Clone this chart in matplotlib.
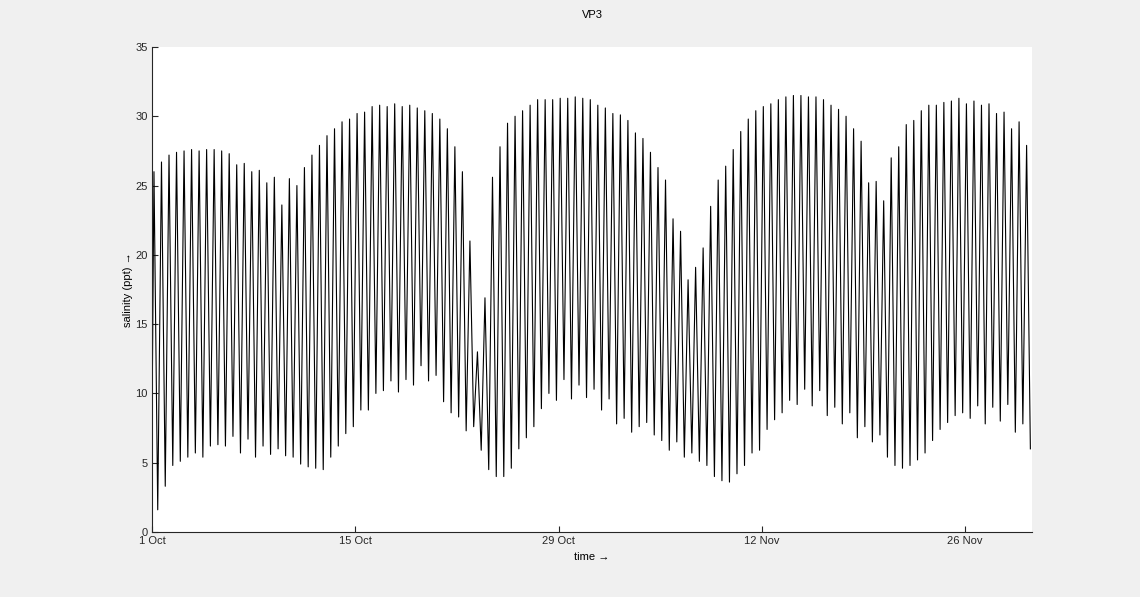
import numpy as np
import matplotlib.pyplot as plt

# salinity at each high water and the following low water (ppt)
highs = [26.0, 26.7, 27.2, 27.4, 27.5, 27.6, 27.5, 27.6, 27.6, 27.5,
         27.3, 26.5, 26.6, 26.0, 26.1, 25.2, 25.6, 23.6, 25.5, 25.0,
         26.3, 27.2, 27.9, 28.6, 29.1, 29.6, 29.8, 30.2, 30.3, 30.7,
         30.8, 30.7, 30.9, 30.7, 30.8, 30.6, 30.4, 30.2, 29.8, 29.1,
         27.8, 26.0, 21.0, 13.0, 16.9, 25.6, 27.8, 29.5, 30.0, 30.4,
         30.8, 31.2, 31.2, 31.2, 31.3, 31.3, 31.4, 31.3, 31.2, 30.8,
         30.6, 30.2, 30.1, 29.7, 28.8, 28.4, 27.4, 26.3, 25.4, 22.6,
         21.7, 18.2, 19.1, 20.5, 23.5, 25.4, 26.4, 27.6, 28.9, 29.8,
         30.4, 30.7, 30.9, 31.2, 31.4, 31.5, 31.5, 31.4, 31.4, 31.2,
         30.8, 30.5, 30.0, 29.1, 28.2, 25.2, 25.3, 23.9, 27.0, 27.8,
         29.4, 29.7, 30.4, 30.8, 30.8, 31.0, 31.1, 31.3, 30.9, 31.1,
         30.8, 30.9, 30.2, 30.3, 29.1, 29.6, 27.9]
lows = [1.6, 3.3, 4.8, 5.1, 5.4, 5.7, 5.4, 6.2, 6.3, 6.2,
        6.9, 5.7, 6.7, 5.4, 6.2, 5.6, 6.0, 5.5, 5.4, 4.9,
        4.7, 4.6, 4.5, 5.4, 6.2, 7.1, 7.6, 8.8, 8.8, 10.0,
        10.2, 10.9, 10.1, 11.0, 10.6, 12.0, 10.9, 11.3, 9.4, 8.6,
        8.3, 7.3, 7.6, 5.9, 4.5, 4.0, 4.0, 4.6, 6.0, 6.8,
        7.6, 8.9, 10.0, 9.5, 11.0, 9.6, 10.6, 9.7, 10.3, 8.8,
        9.6, 7.8, 8.2, 7.2, 7.6, 7.9, 7.0, 6.6, 5.9, 6.5,
        5.4, 5.7, 5.1, 4.8, 4.0, 3.7, 3.6, 4.2, 4.8, 5.7,
        5.9, 7.4, 8.1, 8.6, 9.5, 9.2, 10.3, 9.1, 10.2, 8.4,
        9.0, 7.8, 8.6, 6.8, 7.6, 6.5, 7.0, 5.4, 4.8, 4.6,
        4.8, 5.2, 5.7, 6.6, 7.4, 7.9, 8.4, 8.6, 8.2, 9.1,
        7.8, 9.0, 8.0, 9.2, 7.2, 7.8, 6.0]
start_value = 7.3

first_peak_day = 0.138      # days after 1 Oct
half_tide_days = 0.259      # half of a 12.42 h tide
end_day = 60.6

tick_days = [0, 14, 28, 42, 56]
tick_labels = ['1 Oct', '15 Oct', '29 Oct', '12 Nov', '26 Nov']

values = [start_value]
for h, l in zip(highs, lows):
    values += [h, l]
days = np.concatenate([[0.0], first_peak_day + half_tide_days * np.arange(2 * len(highs))])

plt.rcParams['font.family'] = ['Liberation Sans', 'DejaVu Sans']

fig = plt.figure(figsize=(11.4, 5.97), dpi=100, facecolor='#f0f0f0')
ax = fig.add_axes([0.1333, 0.1089, 0.772, 0.8124])
ax.set_facecolor('white')
ax.plot(days, values, color='black', lw=0.8)

ax.set_xlim(0, end_day)
ax.set_ylim(0, 35)
ax.set_xticks(tick_days)
ax.set_xticklabels(tick_labels)
ax.set_yticks(np.arange(0, 36, 5))
ax.tick_params(direction='in', length=4, width=0.8, labelsize=8, colors='#262626', pad=3)
for side in ['top', 'right']:
    ax.spines[side].set_visible(False)
for side in ['left', 'bottom']:
    ax.spines[side].set_color('#262626')
    ax.spines[side].set_linewidth(0.8)

ax.set_title('VP3', fontsize=8, pad=21)
ax.set_xlabel('time \u2192', fontsize=8, labelpad=4)
ax.set_ylabel('salinity (ppt) \u2192', fontsize=8, labelpad=2)

fig.savefig('out.png', dpi=100, facecolor=fig.get_facecolor())
